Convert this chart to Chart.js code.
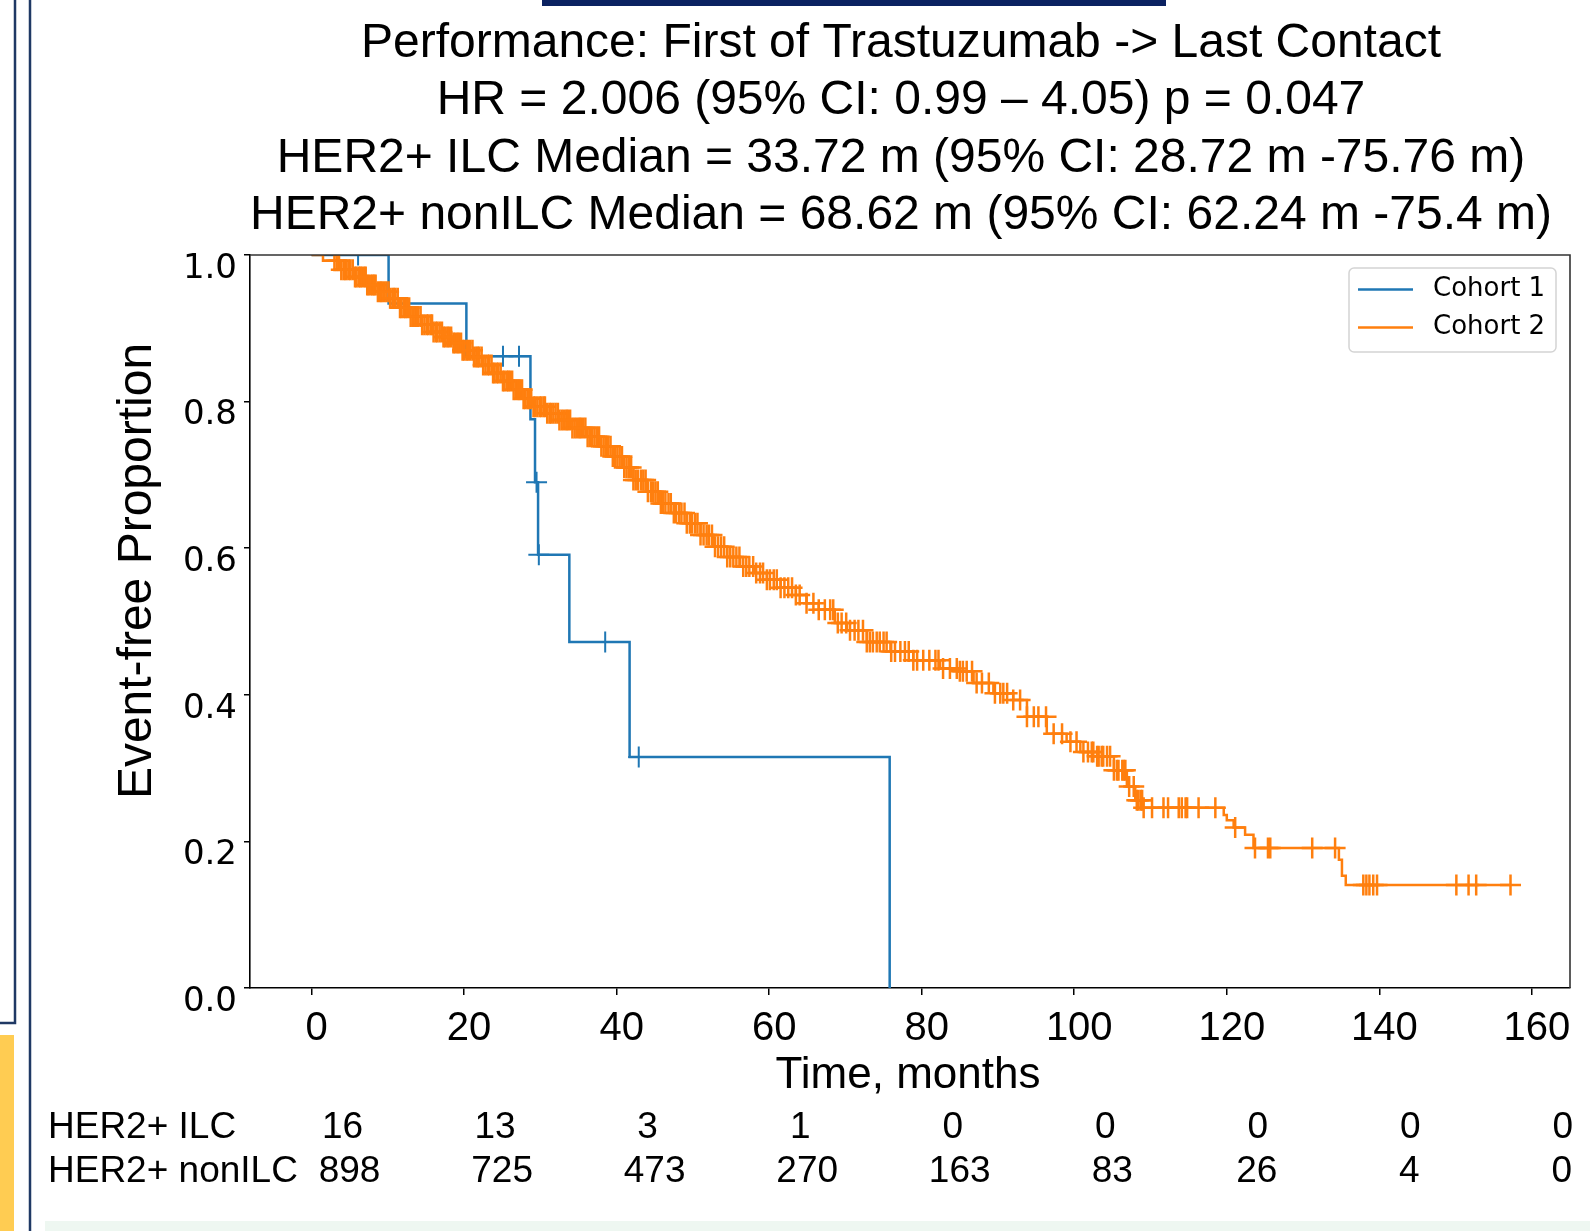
<!DOCTYPE html>
<html>
<head>
<meta charset="utf-8">
<script src="https://cdn.jsdelivr.net/npm/chart.js@4.4.1/dist/chart.umd.min.js"></script>
<style>
  body { margin: 0; background: #fff; }
  #wrap { width: 1590px; height: 1231px; }
</style>
</head>
<body>
<div id="wrap"><canvas id="myChart" width="1590" height="1231"></canvas></div>
<script>
// ---- data ----
var titleLines = [
    'Performance: First of Trastuzumab -> Last Contact',
    'HR = 2.006 (95% CI: 0.99 \u2013 4.05) p = 0.047',
    'HER2+ ILC Median = 33.72 m (95% CI: 28.72 m -75.76 m)',
    'HER2+ nonILC Median = 68.62 m (95% CI: 62.24 m -75.4 m)'
];
var seriesNames = ['Cohort 1', 'Cohort 2'];
var rowNames = ['HER2+ ILC', 'HER2+ nonILC'];

var xTicks = [0, 20, 40, 60, 80, 100, 120, 140, 160];
var yTicks = [0, 0.2, 0.4, 0.6, 0.8, 1.0];

// Cohort 1 (HER2+ ILC): event times and survival after each step
var ilcTimes = [0, 10.1, 20.3, 28.7, 29.3, 29.7, 33.8, 41.7, 75.8];
var ilcSurv  = [1.0, 0.934, 0.862, 0.776, 0.69, 0.591, 0.472, 0.315, 0.0];
var ilcCensor = [6.1, 25.1, 27.2, 29.5, 29.8, 38.5, 42.9];

// Cohort 2 (HER2+ nonILC)
var nonIlcTimes = [0, 1.5, 3.7, 5.5, 7.2, 8.7, 10.2, 11.5, 12.9, 14.4, 15.9, 17.2, 18.5, 19.8,
    21.2, 22.5, 23.8, 25.1, 26.4, 27.7, 29.0, 30.7, 32.5, 34.2, 36.0, 37.8, 39.5, 40.9,
    42.2, 44.0, 45.7, 47.5, 49.2, 51.0, 52.7, 54.5, 56.2, 58.0, 59.7, 61.5, 63.5, 64.9,
    66.5, 68.6, 70.2, 72.8, 75.9, 78.9, 82.4, 85.0, 86.8, 89.4, 92.0, 93.8, 96.4, 99.0,
    100.8, 103.0, 105.2, 106.9, 108.0, 109.0, 119.6, 120.0, 120.9, 122.4, 123.5, 134.7,
    135.1, 135.6, 157.2];
var nonIlcSurv = [1.0, 0.992, 0.980, 0.970, 0.959, 0.950, 0.941, 0.928, 0.916, 0.905, 0.895, 0.888, 0.880, 0.870,
    0.861, 0.850, 0.839, 0.828, 0.816, 0.804, 0.793, 0.784, 0.775, 0.764, 0.752, 0.739, 0.725, 0.710,
    0.693, 0.677, 0.661, 0.648, 0.634, 0.618, 0.602, 0.588, 0.575, 0.566, 0.557, 0.546, 0.536, 0.525,
    0.516, 0.498, 0.488, 0.472, 0.459, 0.447, 0.436, 0.432, 0.416, 0.402, 0.393, 0.370, 0.347, 0.336,
    0.322, 0.316, 0.297, 0.275, 0.256, 0.246, 0.236, 0.229, 0.219, 0.209, 0.191, 0.175,
    0.153, 0.1405, 0.1405];
var nonIlcCensor = [3.0, 3.3, 3.6, 3.9, 4.2, 4.4, 4.6, 4.9, 5.1, 5.4, 5.7, 5.9, 6.2, 6.4, 6.6, 6.9,
    7.1, 7.3, 7.5, 7.8, 8.0, 8.2, 8.4, 8.7, 9.0, 9.2, 9.5, 9.8, 10.1, 10.3, 10.6, 10.8, 11.0, 11.3,
    11.6, 11.8, 12.1, 12.3, 12.5, 12.8, 13.0, 13.3, 13.6, 13.8, 14.0, 14.3, 14.5, 14.8, 15.1, 15.3,
    15.6, 15.8, 16.0, 16.3, 16.5, 16.8, 17.1, 17.3, 17.5, 17.8, 18.0, 18.3, 18.6, 18.8, 19.1, 19.3,
    19.6, 19.8, 20.0, 20.3, 20.5, 20.8, 21.1, 21.3, 21.6, 21.8, 22.0, 22.3, 22.5, 22.8, 23.1, 23.3,
    23.6, 23.8, 24.0, 24.3, 24.5, 24.8, 25.1, 25.3, 25.6, 25.8, 26.0, 26.3, 26.5, 26.8, 27.1, 27.3,
    27.6, 27.8, 28.0, 28.3, 28.5, 28.8, 29.1, 29.3, 29.6, 29.9, 30.1, 30.4, 30.6, 30.9, 31.2, 31.4,
    31.7, 32.0, 32.3, 32.5, 32.8, 33.1, 33.4, 33.6, 33.9, 34.2, 34.5, 34.8, 35.1, 35.3, 35.6, 35.9,
    36.2, 36.5, 36.8, 37.1, 37.4, 37.7, 38.0, 38.3, 38.6, 38.9, 39.2, 39.5, 39.8, 40.1, 40.4, 40.7,
    41.0, 41.3, 41.6, 41.9, 42.2, 42.5, 42.8, 43.2, 43.5, 43.8, 44.1, 44.5, 44.8, 45.1, 45.4, 45.8,
    46.1, 46.4, 46.8, 47.1, 47.5, 47.8, 48.2, 48.5, 48.9, 49.2, 49.6, 49.9, 50.3, 50.6, 51.0, 51.4,
    51.8, 52.1, 52.5, 52.9, 53.3, 53.7, 54.1, 54.5, 54.9, 55.3, 55.7, 56.1, 56.6, 57.0, 57.4, 57.9,
    58.3, 58.8, 59.2, 59.7, 60.1, 60.6, 61.0, 61.5, 62.0, 62.5, 63.0, 63.5, 64.0, 64.9, 65.8, 66.5,
    67.3, 68.0, 68.4, 69.0, 69.5, 70.1, 70.6, 71.2, 71.7, 72.3, 72.8, 73.2, 73.6, 74.1, 74.5, 75.0,
    75.4, 76.0, 76.5, 77.2, 77.8, 78.3, 78.9, 79.4, 80.2, 81.0, 81.8, 82.2, 82.8, 83.7, 84.6, 85.0,
    85.4, 85.9, 86.6, 87.2, 87.9, 88.8, 89.6, 90.3, 90.7, 91.2, 92.0, 92.9, 93.8, 94.7, 95.3, 96.3,
    97.3, 98.4, 99.5, 100.3, 101.2, 101.8, 102.3, 102.5, 103.0, 103.2, 103.6, 103.8, 104.3, 104.7,
    105.2, 105.6, 105.8, 106.3, 106.5, 106.7, 107.2, 107.8, 108.2, 108.4, 108.7, 108.9, 109.1, 110.2,
    111.7, 112.3, 113.7, 114.1, 114.6, 114.8, 116.3, 118.5, 121.1, 123.7, 125.4, 125.7, 131.2, 134.2,
    137.9, 138.3, 138.7, 139.2, 139.7, 150.1, 151.7, 152.7, 157.2];

var riskTimes = [0, 20, 40, 60, 80, 100, 120, 140, 160];
var ilcAtRisk = [16, 13, 3, 1, 0, 0, 0, 0, 0];
var nonIlcAtRisk = [898, 725, 473, 270, 163, 83, 26, 4, 0];

var blue = '#1f77b4';
var orange = '#ff7f0e';
var arial = "'Liberation Sans', Arial, sans-serif";
var dejavu = "'DejaVu Sans', sans-serif";

function toPoints(times, surv) {
    var pts = [];
    for (var i = 0; i < times.length; i++) {
        pts.push({ x: times[i], y: surv[i] });
    }
    return pts;
}

// censor marks sit on the step curve
function survAt(times, surv, t) {
    var s = surv[0];
    for (var i = 0; i < times.length; i++) {
        if (times[i] <= t) s = surv[i];
    }
    return s;
}

function censorPoints(censor, times, surv) {
    var pts = [];
    for (var i = 0; i < censor.length; i++) {
        pts.push({ x: censor[i], y: survAt(times, surv, censor[i]) });
    }
    return pts;
}

var decor = {
    id: 'decor',
    beforeDraw: function(chart) {
        var ctx = chart.ctx;
        ctx.save();
        // slide bits around the figure
        ctx.fillStyle = '#0b2261';
        ctx.fillRect(542, 0, 624, 6);
        ctx.fillStyle = '#ffcc52';
        ctx.fillRect(0, 1035, 14, 196);
        ctx.fillStyle = '#eef7f1';
        ctx.fillRect(45, 1221, 1545, 10);
        ctx.strokeStyle = '#1f3864';
        ctx.lineWidth = 2.5;
        ctx.beginPath();
        ctx.moveTo(15, 0);
        ctx.lineTo(15, 1023);
        ctx.lineTo(0, 1023);
        ctx.moveTo(30, 0);
        ctx.lineTo(30, 1231);
        ctx.stroke();
        ctx.restore();
    },
    afterDraw: function(chart) {
        var ctx = chart.ctx;
        var a = chart.chartArea;
        var xs = chart.scales.x;
        ctx.save();

        // top and right spines
        ctx.strokeStyle = '#333';
        ctx.lineWidth = 1.6;
        ctx.beginPath();
        ctx.moveTo(a.left, a.top);
        ctx.lineTo(a.right, a.top);
        ctx.lineTo(a.right, a.bottom);
        ctx.stroke();

        // title
        ctx.fillStyle = '#000';
        ctx.textAlign = 'center';
        ctx.textBaseline = 'alphabetic';
        ctx.font = '48px ' + arial;
        var base = [56.5, 114, 171.5, 229];
        for (var i = 0; i < titleLines.length; i++) {
            ctx.fillText(titleLines[i], 901, base[i]);
        }

        // axis titles
        ctx.font = '44px ' + arial;
        ctx.fillText('Time, months', 908, 1088);
        ctx.save();
        ctx.translate(151, 571);
        ctx.rotate(-Math.PI / 2);
        ctx.font = '48px ' + arial;
        ctx.fillText('Event-free Proportion', 0, 0);
        ctx.restore();

        // number at risk
        ctx.font = '37px ' + arial;
        ctx.textAlign = 'left';
        ctx.fillText(rowNames[0], 48, 1138);
        ctx.fillText(rowNames[1], 48, 1182);
        ctx.textAlign = 'center';
        for (var j = 0; j < riskTimes.length; j++) {
            var px = xs.getPixelForValue(riskTimes[j]);
            ctx.fillText(String(ilcAtRisk[j]), px + 31, 1138);
            ctx.fillText(String(nonIlcAtRisk[j]), px + (j < 6 ? 38 : 30), 1182);
        }

        // legend
        var bx = 1349, by = 268, bw = 207, bh = 84, r = 5;
        ctx.beginPath();
        ctx.moveTo(bx + r, by);
        ctx.arcTo(bx + bw, by, bx + bw, by + bh, r);
        ctx.arcTo(bx + bw, by + bh, bx, by + bh, r);
        ctx.arcTo(bx, by + bh, bx, by, r);
        ctx.arcTo(bx, by, bx + bw, by, r);
        ctx.closePath();
        ctx.fillStyle = 'rgba(255,255,255,0.85)';
        ctx.fill();
        ctx.strokeStyle = '#d4d4d4';
        ctx.lineWidth = 1.5;
        ctx.stroke();
        var ly = [289.5, 327.5];
        var lc = [blue, orange];
        ctx.font = '26px ' + dejavu;
        ctx.textAlign = 'left';
        ctx.textBaseline = 'middle';
        for (var k = 0; k < 2; k++) {
            ctx.strokeStyle = lc[k];
            ctx.lineWidth = 2.5;
            ctx.beginPath();
            ctx.moveTo(1358, ly[k]);
            ctx.lineTo(1413, ly[k]);
            ctx.stroke();
            ctx.fillStyle = '#000';
            ctx.fillText(seriesNames[k], 1433, ly[k]);
        }
        ctx.restore();
    }
};

var ctx = document.getElementById('myChart');
var myChart = new Chart(ctx, {
    type: 'line',
    data: {
        datasets: [
            {
                label: seriesNames[1],
                data: toPoints(nonIlcTimes, nonIlcSurv),
                borderColor: orange,
                borderWidth: 2.5,
                stepped: true,
                pointRadius: 0,
                fill: false,
                order: 0
            },
            {
                label: seriesNames[1] + ' censored',
                data: censorPoints(nonIlcCensor, nonIlcTimes, nonIlcSurv),
                showLine: false,
                pointStyle: 'cross',
                pointRadius: 10.5,
                pointBorderWidth: 2.5,
                pointBorderColor: orange,
                order: 0
            },
            {
                label: seriesNames[0],
                data: toPoints(ilcTimes, ilcSurv),
                borderColor: blue,
                borderWidth: 2.5,
                stepped: true,
                pointRadius: 0,
                fill: false,
                order: 1
            },
            {
                label: seriesNames[0] + ' censored',
                data: censorPoints(ilcCensor, ilcTimes, ilcSurv),
                showLine: false,
                pointStyle: 'cross',
                pointRadius: 10.5,
                pointBorderWidth: 2,
                pointBorderColor: blue,
                order: 1
            }
        ]
    },
    options: {
        responsive: false,
        animation: false,
        devicePixelRatio: 1,
        layout: { padding: { top: 255, right: 20, left: 0, bottom: 0 } },
        plugins: {
            legend: { display: false },
            title: { display: false },
            tooltip: { enabled: false }
        },
        scales: {
            x: {
                type: 'linear',
                min: -8.07,
                max: 165,
                afterBuildTicks: function(scale) {
                    scale.ticks = xTicks.map(function(v) { return { value: v }; });
                },
                afterFit: function(scale) { scale.height = 243; },
                grid: { drawOnChartArea: false, drawTicks: true, tickLength: 7, color: '#000', lineWidth: 1.5 },
                border: { display: true, color: '#000', width: 1.6 },
                ticks: {
                    color: '#000',
                    font: { family: arial, size: 40 },
                    padding: 10,
                    labelOffset: 5,
                    maxRotation: 0,
                    autoSkip: false,
                    callback: function(v) { return String(v); }
                }
            },
            y: {
                type: 'linear',
                min: 0,
                max: 1,
                afterBuildTicks: function(scale) {
                    scale.ticks = yTicks.map(function(v) { return { value: v }; });
                },
                afterFit: function(scale) { scale.width = 250; },
                grid: { drawOnChartArea: false, drawTicks: true, tickLength: 6, color: '#000', lineWidth: 1.5 },
                border: { display: true, color: '#000', width: 1.6 },
                ticks: {
                    color: '#000',
                    font: { family: dejavu, size: 34 },
                    padding: 7,
                    labelOffset: 14,
                    autoSkip: false,
                    callback: function(v) { return v.toFixed(1); }
                }
            }
        }
    },
    plugins: [decor]
});
</script>
</body>
</html>
